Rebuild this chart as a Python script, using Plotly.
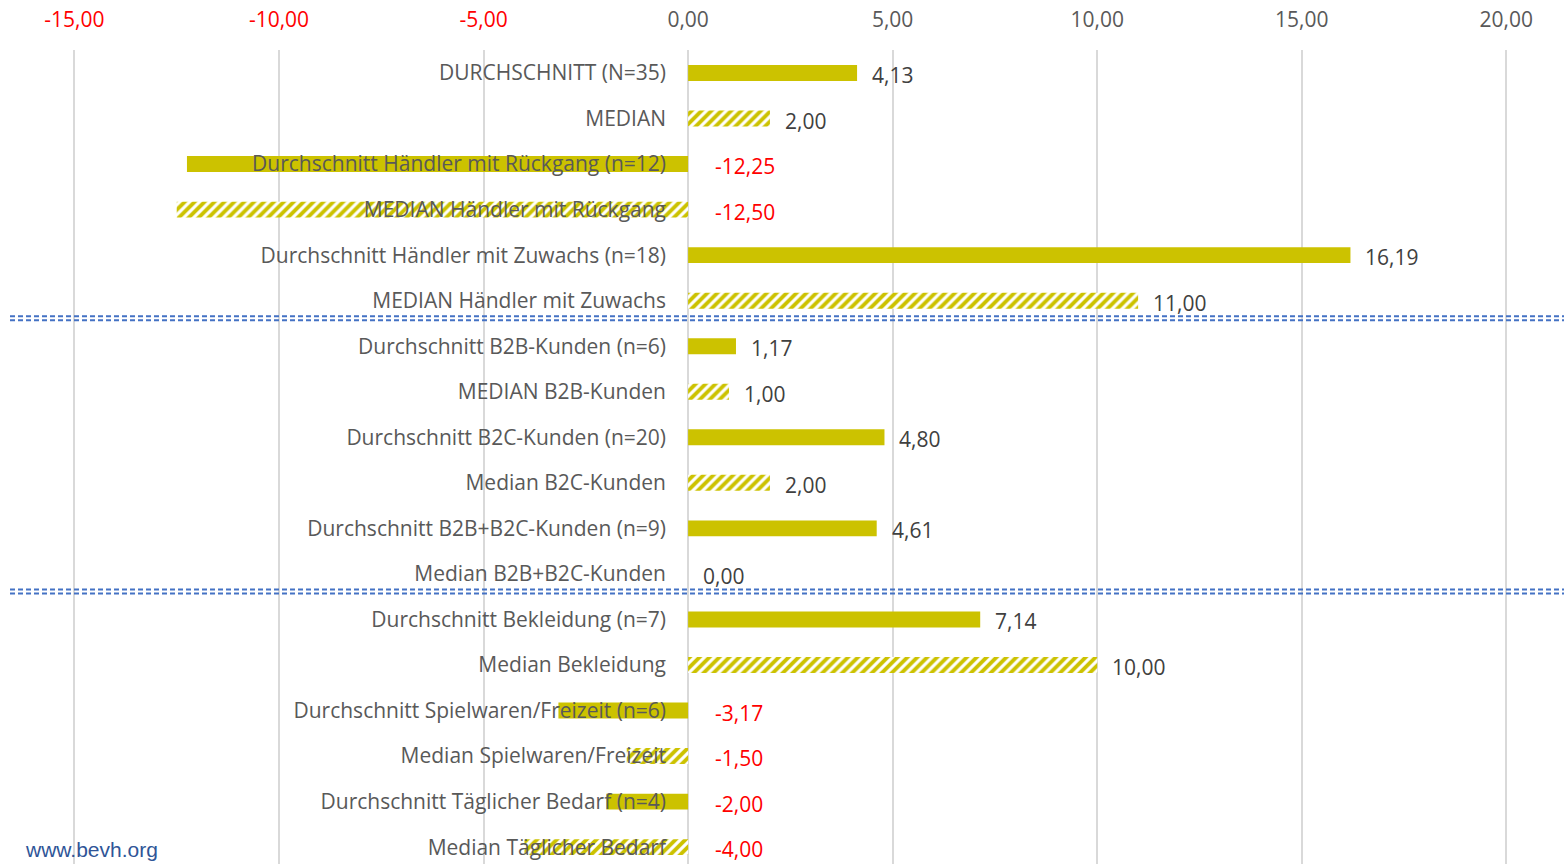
import plotly.graph_objects as go

categories = [
    "DURCHSCHNITT (N=35)", "MEDIAN",
    "Durchschnitt Händler mit Rückgang (n=12)", "MEDIAN Händler mit Rückgang",
    "Durchschnitt Händler mit Zuwachs (n=18)", "MEDIAN Händler mit Zuwachs",
    "Durchschnitt B2B-Kunden (n=6)", "MEDIAN B2B-Kunden",
    "Durchschnitt B2C-Kunden (n=20)", "Median B2C-Kunden",
    "Durchschnitt B2B+B2C-Kunden (n=9)", "Median B2B+B2C-Kunden",
    "Durchschnitt Bekleidung (n=7)", "Median Bekleidung",
    "Durchschnitt Spielwaren/Freizeit (n=6)", "Median Spielwaren/Freizeit",
    "Durchschnitt Täglicher Bedarf (n=4)", "Median Täglicher Bedarf",
]
values = [4.13, 2.00, -12.25, -12.50, 16.19, 11.00, 1.17, 1.00, 4.80, 2.00,
          4.61, 0.00, 7.14, 10.00, -3.17, -1.50, -2.00, -4.00]
is_median = [False, True] * 9
tick_values = [-15, -10, -5, 0, 5, 10, 15, 20]
group_breaks = [5.5, 11.5]

BAR = "#CCC200"
FONT = "'Open Sans', Lato, sans-serif"
FS = 21

def de(v):
    return f"{v:.2f}".replace(".", ",")

avg_c = [c for c, m in zip(categories, is_median) if not m]
avg_v = [v for v, m in zip(values, is_median) if not m]
med_c = [c for c, m in zip(categories, is_median) if m]
med_v = [v for v, m in zip(values, is_median) if m]

fig = go.Figure()
fig.add_trace(go.Bar(y=avg_c, x=avg_v, orientation="h", width=0.35,
                     marker=dict(color=BAR, line=dict(width=0)), showlegend=False))
fig.add_trace(go.Bar(y=med_c, x=med_v, orientation="h", width=0.35,
                     marker=dict(color="white", line=dict(width=0),
                                 pattern=dict(shape="/", fgcolor=BAR, bgcolor="white",
                                              size=7, solidity=0.55, fillmode="replace")),
                     showlegend=False))

annotations = []
for c, v in zip(categories, values):
    if v < 0:
        annotations.append(dict(x=0, y=c, xref="x", yref="y", text=de(v), showarrow=False,
                                xanchor="left", xshift=25, yshift=-2,
                                font=dict(family=FONT, size=FS, color="#FF0000")))
    else:
        annotations.append(dict(x=v, y=c, xref="x", yref="y", text=de(v), showarrow=False,
                                xanchor="left", xshift=13, yshift=-2,
                                font=dict(family=FONT, size=FS, color="#404040")))
annotations.append(dict(x=23 / 1564, y=(864 - 849) / 814, xref="paper", yref="paper",
                        text="www.bevh.org", showarrow=False, xanchor="left", yanchor="middle",
                        font=dict(family="Liberation Sans, Arial", size=21, color="#2F5597")))

shapes = []
for b in group_breaks:
    for off in (-0.16, -0.07):
        shapes.append(dict(type="line", xref="paper", yref="y", x0=10 / 1564, x1=1,
                           y0=b + off, y1=b + off,
                           line=dict(color="#4472C4", width=2, dash="5px,3px")))

ticktext = [f'<span style="color:#FF0000">{de(t)}</span>' if t < 0 else de(t) for t in tick_values]

fig.update_layout(
    width=1564, height=864,
    margin=dict(l=0, r=0, t=50, b=0),
    paper_bgcolor="white", plot_bgcolor="white",
    barmode="overlay",
    font=dict(family=FONT, color="#595959"),
    annotations=annotations,
    shapes=shapes,
    xaxis=dict(side="top", range=[-16.82, 21.41], tickvals=tick_values, ticktext=ticktext,
               showgrid=True, gridcolor="#D9D9D9", gridwidth=2,
               zeroline=True, zerolinecolor="#D9D9D9", zerolinewidth=2,
               ticks="", ticklabelstandoff=18, tickfont=dict(family=FONT, size=FS, color="#595959"),
               showline=False, fixedrange=True),
    yaxis=dict(type="category", categoryorder="array", categoryarray=categories,
               range=[17.37, -0.505], anchor="free", position=688 / 1564,
               ticks="", ticklabelstandoff=22, showgrid=False, zeroline=False, showline=False,
               tickfont=dict(family=FONT, size=FS, color="#595959")),
)

fig.write_html("out.html", config={"displayModeBar": False},
               post_script="document.body.style.margin='0';document.body.style.overflow='hidden';")
